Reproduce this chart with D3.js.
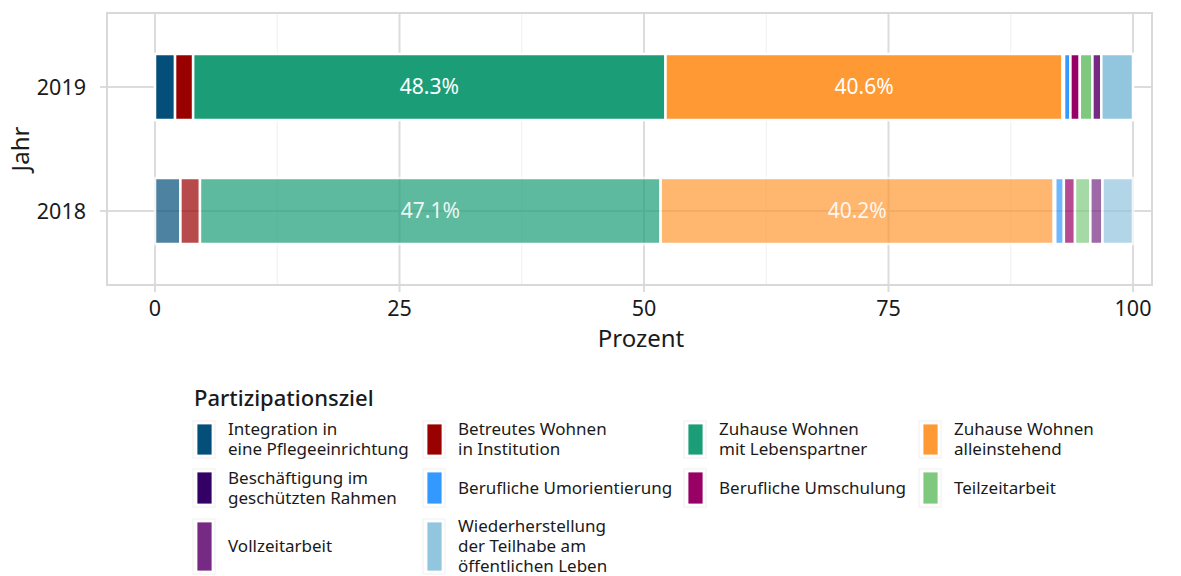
<!DOCTYPE html>
<html><head><meta charset="utf-8">
<script src="https://cdn.jsdelivr.net/npm/d3@7"></script>
<style>body{margin:0;background:#fff;} text{font-family:"Noto Sans",sans-serif;}</style>
</head><body><svg id="chart" width="1181" height="576"></svg>
<script>
const years = ["2019", "2018"];
const categories = [
  "Integration in\neine Pflegeeinrichtung",
  "Betreutes Wohnen\nin Institution",
  "Zuhause Wohnen\nmit Lebenspartner",
  "Zuhause Wohnen\nalleinstehend",
  "Beschäftigung im\ngeschützten Rahmen",
  "Berufliche Umorientierung",
  "Berufliche Umschulung",
  "Teilzeitarbeit",
  "Vollzeitarbeit",
  "Wiederherstellung\nder Teilhabe am\nöffentlichen Leben"
];
const values2019 = [2.05, 1.85, 48.3, 40.6, 0.15, 0.65, 0.96, 1.29, 0.91, 3.24];
const values2018 = [2.6, 2.0, 47.1, 40.2, 0.15, 0.88, 1.14, 1.57, 1.24, 3.12];
const colors = ["#034f7a", "#990000", "#1b9e77", "#ff9933", "#330066", "#3399ff", "#990066", "#7fc97f", "#762a83", "#92c5de"];
const xTicks = [0, 25, 50, 75, 100];
const xMinor = [12.5, 37.5, 62.5, 87.5];
const labelled = [48.3, 40.6, 47.1, 40.2];

const svg = d3.select("#chart");
const panel = {x0: 107, x1: 1152, y0: 13, y1: 285};
const x = d3.scaleLinear().domain([0, 100]).range([155, 1133]);
const y = d3.scalePoint().domain(years).range([87, 211]);
const barH = 66;
const color = d3.scaleOrdinal().domain(categories).range(colors);

// grid
const g = svg.append("g");
g.selectAll(".minor").data(xMinor).join("line")
  .attr("x1", d => x(d)).attr("x2", d => x(d)).attr("y1", panel.y0).attr("y2", panel.y1)
  .attr("stroke", "#efefef").attr("stroke-width", 1);
g.selectAll(".major").data(xTicks).join("line")
  .attr("x1", d => x(d)).attr("x2", d => x(d)).attr("y1", panel.y0).attr("y2", panel.y1 + 7)
  .attr("stroke", "#dcdcdc").attr("stroke-width", 2);
g.selectAll(".hmajor").data(years).join("line")
  .attr("x1", panel.x0 - 7).attr("x2", panel.x1).attr("y1", d => y(d)).attr("y2", d => y(d))
  .attr("stroke", "#dcdcdc").attr("stroke-width", 2);

// bars
const dataByYear = {"2019": values2019, "2018": values2018};
years.forEach(yr => {
  const vals = dataByYear[yr];
  let cum = 0;
  const segs = vals.map((v, i) => { const s = {cat: categories[i], v, start: cum, yr}; cum += v; return s; });
  const gy = svg.append("g").attr("opacity", yr === "2018" ? 0.7 : 1);
  gy.selectAll("rect").data(segs).join("rect")
    .attr("x", d => x(d.start)).attr("width", d => x(d.start + d.v) - x(d.start))
    .attr("y", y(yr) - barH / 2).attr("height", barH)
    .attr("fill", d => color(d.cat)).attr("stroke", "#ffffff").attr("stroke-width", 2.5);
  svg.append("g").selectAll("text").data(segs.filter(d => labelled.includes(d.v))).join("text")
    .attr("x", d => x(d.start + d.v / 2)).attr("y", y(yr)).attr("dy", "0.35em")
    .attr("text-anchor", "middle").attr("fill", "#ffffff")
    .attr("fill-opacity", yr === "2018" ? 0.9 : 1)
    .attr("font-size", 21).text(d => d.v.toFixed(1) + "%");
});

// panel border
svg.append("rect").attr("x", panel.x0).attr("y", panel.y0)
  .attr("width", panel.x1 - panel.x0).attr("height", panel.y1 - panel.y0)
  .attr("fill", "none").attr("stroke", "#d9d9d9").attr("stroke-width", 2);

// axes labels
svg.append("g").selectAll("text").data(xTicks).join("text")
  .attr("x", d => x(d)).attr("y", 308).attr("dy", "0.36em").attr("text-anchor", "middle")
  .attr("font-size", 21.5).attr("fill", "#1a1a1a").text(d => d);
svg.append("g").selectAll("text").data(years).join("text")
  .attr("x", 86).attr("y", d => y(d)).attr("dy", "0.36em").attr("text-anchor", "end")
  .attr("font-size", 21.5).attr("fill", "#1a1a1a").text(d => d);
svg.append("text").attr("x", 641).attr("y", 338).attr("dy", "0.36em").attr("text-anchor", "middle")
  .attr("font-size", 24).attr("fill", "#1a1a1a").text("Prozent");
svg.append("text").attr("transform", `translate(20,${(panel.y0 + panel.y1) / 2}) rotate(-90)`)
  .attr("dy", "0.36em").attr("text-anchor", "middle").attr("font-size", 24).attr("fill", "#1a1a1a").text("Jahr");

// legend
const lg = svg.append("g");
lg.append("text").attr("x", 194).attr("y", 398).attr("dy", "0.36em").attr("font-size", 22).attr("font-weight", 500)
  .attr("fill", "#1a1a1a").text("Partizipationsziel");
const colX = [193, 423, 684, 919];
const rows = [{y: 421, h: 37}, {y: 469, h: 38}, {y: 519, h: 55}];
categories.forEach((c, i) => {
  const col = i % 4, row = Math.floor(i / 4);
  const r = rows[row];
  const kx = colX[col];
  const it = lg.append("g");
  it.append("rect").attr("x", kx).attr("y", r.y).attr("width", 22).attr("height", r.h)
    .attr("fill", "#ffffff").attr("stroke", "#f0f0f0").attr("stroke-width", 1);
  it.append("rect").attr("x", kx + 4).attr("y", r.y + 3).attr("width", 15).attr("height", r.h - 6)
    .attr("fill", color(c)).attr("stroke", "#ffffff").attr("stroke-width", 0.8);
  const lines = c.split("\n");
  const lh = 20;
  const cy = r.y + r.h / 2;
  lines.forEach((ln, j) => {
    it.append("text").attr("x", kx + 35).attr("font-size", 17).attr("fill", "#1a1a1a")
      .attr("y", cy + (j - (lines.length - 1) / 2) * lh).attr("dy", "0.35em").text(ln);
  });
});
</script></body></html>
